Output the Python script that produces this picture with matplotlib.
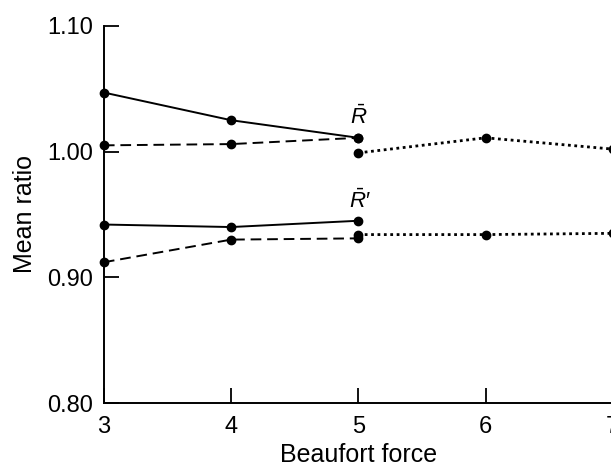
import matplotlib
matplotlib.use("Agg")
import matplotlib.pyplot as plt

plt.rcParams['font.family'] = ['Liberation Sans', 'DejaVu Sans']
plt.rcParams['mathtext.fontset'] = 'custom'
plt.rcParams['mathtext.rm'] = 'Liberation Sans'
plt.rcParams['mathtext.it'] = 'Liberation Sans:italic'

# Beaufort force
x_low = [3, 4, 5]
x_high = [5, 6, 7]

# R-bar series
r_solid = [1.047, 1.025, 1.011]
r_dashed = [1.005, 1.006, 1.011]
r_dotted = [0.999, 1.011, 1.002]

# R-bar prime series
rp_solid = [0.942, 0.940, 0.945]
rp_dashed = [0.912, 0.930, 0.931]
rp_dotted = [0.934, 0.934, 0.935]

fig = plt.figure(figsize=(6.11, 4.69), dpi=100)
ax = fig.add_axes([0.170, 0.1407, 0.833, 0.804])

kw = dict(color='black', marker='o', markersize=6, clip_on=False, zorder=3)
dash = (0, (5.5, 3))
dot = (0, (1, 1.3))
ax.plot(x_low, r_solid, linestyle='-', linewidth=1.4, **kw)
ax.plot(x_low, r_dashed, linestyle=dash, linewidth=1.4, **kw)
ax.plot(x_high, r_dotted, linestyle=dot, linewidth=2.0, **kw)
ax.plot(x_low, rp_solid, linestyle='-', linewidth=1.4, **kw)
ax.plot(x_low, rp_dashed, linestyle=dash, linewidth=1.4, **kw)
ax.plot(x_high, rp_dotted, linestyle=dot, linewidth=2.0, **kw)

ax.text(5, 1.018, r'$\bar{R}$', ha='center', va='bottom', fontsize=16)
ax.text(5.01, 0.951, "$\\bar{R}$\u2032", ha='center', va='bottom', fontsize=16)

ax.set_xlim(3, 7)
ax.set_ylim(0.80, 1.10)
ax.set_xticks([3, 4, 5, 6, 7])
ax.set_yticks([0.80, 0.90, 1.00, 1.10])
ax.set_yticklabels(['0.80', '0.90', '1.00', '1.10'])
ax.tick_params(direction='in', length=11, width=1.3, labelsize=17)
ax.tick_params(axis='y', pad=8)
ax.tick_params(axis='x', pad=9)
ax.spines['top'].set_visible(False)
ax.spines['right'].set_visible(False)
for s in ['left', 'bottom']:
    ax.spines[s].set_linewidth(1.4)

ax.set_xlabel('Beaufort force', fontsize=18, labelpad=4)
ax.set_ylabel('Mean ratio', fontsize=18, labelpad=7)

fig.savefig('out.png', dpi=100)
